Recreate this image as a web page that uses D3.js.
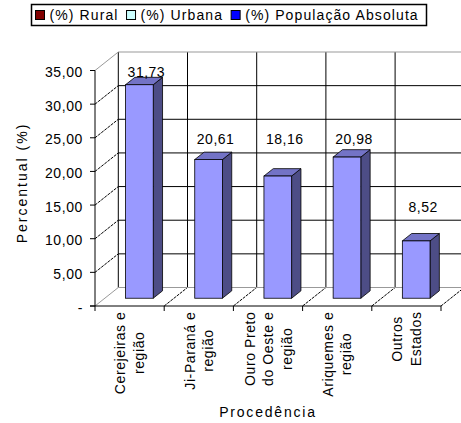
<!DOCTYPE html>
<html>
<head>
<meta charset="utf-8">
<script src="https://cdn.jsdelivr.net/npm/d3@7"></script>
<style>
  body { margin: 0; background: #fff; }
  svg { display: block; font-family: Arial, "Liberation Sans", sans-serif; }
</style>
</head>
<body>
<div id="chart"></div>
<script>
// chart data
var categories = [
  ["Cerejeiras e", "região"],
  ["Ji-Paraná e", "região"],
  ["Ouro Preto", "do Oeste e", "região"],
  ["Ariquemes e", "região"],
  ["Outros", "Estados"]
];
var popAbsoluta = [31.73, 20.61, 18.16, 20.98, 8.52];
var valueLabels = ["31,73", "20,61", "18,16", "20,98", "8,52"];
// gridline level where each value label sits (as placed in the original)
var labelLevels = [35, 25, 25, 25, 15];
var yTicks = [0, 5, 10, 15, 20, 25, 30, 35];
var legendNames = ["(%) Rural", "(%) Urbana", "(%) População Absoluta"];
var legendColors = ["#800000", "#ccffff", "#0000ff"];

var width = 461, height = 423;
//depth of the 3d box
var depthX = 23.3, depthY = -18.5;
//bars sit between these depth fractions
var barD0 = 0.42, barD1 = 0.82;

var svg = d3.select("#chart").append("svg")
    .attr("width", width)
    .attr("height", height);

var x = d3.scaleBand()
    .domain(d3.range(categories.length))
    .range([95, 95 + 5 * 69.2])
    .paddingInner(0.6)
    .paddingOuter(0.3);

var y = d3.scaleLinear()
    .domain([0, 35])
    .range([306, 70.5]);

var x0 = x.range()[0], x1 = x.range()[1];
var step = x.step();

function fmt(v) {
  return v == 0 ? "-" : d3.format(".2f")(v).replace(".", ",");
}

//walls
var walls = svg.append("g");
//back wall gridlines
walls.selectAll("line.hgrid")
    .data(yTicks.slice(1, -1))
    .enter().append("line")
    .attr("x1", x0 + depthX).attr("x2", x1 + depthX)
    .attr("y1", function(d) { return y(d) + depthY; })
    .attr("y2", function(d) { return y(d) + depthY; })
    .attr("stroke", "#000");
//side wall gridlines
walls.selectAll("line.sgrid")
    .data(yTicks.slice(1, -1))
    .enter().append("line")
    .attr("x1", x0).attr("x2", x0 + depthX)
    .attr("y1", function(d) { return y(d); })
    .attr("y2", function(d) { return y(d) + depthY; })
    .attr("stroke", "#000")
    .attr("stroke-dasharray", "3,1");
//vertical gridlines on back wall
walls.selectAll("line.vgrid")
    .data(d3.range(categories.length + 1))
    .enter().append("line")
    .attr("x1", function(i) { return x0 + i * step + depthX; })
    .attr("x2", function(i) { return x0 + i * step + depthX; })
    .attr("y1", y(35) + depthY)
    .attr("y2", y(0) + depthY)
    .attr("stroke", "#000");
//floor diagonals
walls.selectAll("line.fgrid")
    .data(d3.range(1, categories.length + 1))
    .enter().append("line")
    .attr("x1", function(i) { return x0 + i * step; })
    .attr("x2", function(i) { return x0 + i * step + depthX; })
    .attr("y1", y(0))
    .attr("y2", y(0) + depthY)
    .attr("stroke", "#000")
    .attr("stroke-dasharray", "3,1");
//gray edges
walls.append("path")
    .attr("d", "M" + x0 + "," + y(0) + "L" + (x0 + depthX) + "," + (y(0) + depthY) +
               "L" + (x1 + depthX) + "," + (y(0) + depthY))
    .attr("fill", "none").attr("stroke", "#999");
walls.append("path")
    .attr("d", "M" + x0 + "," + y(35) + "L" + (x0 + depthX) + "," + (y(35) + depthY) +
               "L" + (x1 + depthX) + "," + (y(35) + depthY))
    .attr("fill", "none").attr("stroke", "#999");

//bars
var bars = svg.append("g").selectAll("g")
    .data(popAbsoluta)
    .enter().append("g");

function bx(i) { return x(i) + barD0 * depthX; }
function by(v) { return y(v) + barD0 * depthY; }
var bdx = (barD1 - barD0) * depthX, bdy = (barD1 - barD0) * depthY;
var bw = x.bandwidth();

//side face
bars.append("path")
    .attr("d", function(d, i) {
      var l = bx(i) + bw, t = by(d), b = by(0);
      return "M" + l + "," + t + "L" + (l + bdx) + "," + (t + bdy) +
             "L" + (l + bdx) + "," + (b + bdy) + "L" + l + "," + b + "Z";
    })
    .attr("fill", "#4d4d86").attr("stroke", "#000").attr("stroke-width", 0.8);
//top face
bars.append("path")
    .attr("d", function(d, i) {
      var l = bx(i), t = by(d);
      return "M" + l + "," + t + "L" + (l + bdx) + "," + (t + bdy) +
             "L" + (l + bw + bdx) + "," + (t + bdy) + "L" + (l + bw) + "," + t + "Z";
    })
    .attr("fill", "#7373c6").attr("stroke", "#000").attr("stroke-width", 0.8);
//front face
bars.append("rect")
    .attr("x", function(d, i) { return bx(i); })
    .attr("y", function(d) { return by(d); })
    .attr("width", bw)
    .attr("height", function(d) { return by(0) - by(d); })
    .attr("fill", "#9999ff").attr("stroke", "#000").attr("stroke-width", 0.8);

//value labels
svg.append("g").selectAll("text")
    .data(popAbsoluta)
    .enter().append("text")
    .attr("x", function(d, i) { return bx(i) + bw / 2 + 7; })
    .attr("y", function(d, i) { return y(labelLevels[i]) + 6.5; })
    .attr("text-anchor", "middle")
    .attr("font-size", 14)
    .attr("letter-spacing", 0.5)
    .text(function(d, i) { return valueLabels[i]; });

//front axes
svg.append("line")
    .attr("x1", x0).attr("x2", x0)
    .attr("y1", y(35)).attr("y2", y(0))
    .attr("stroke", "#000");
svg.append("line")
    .attr("x1", x0 - 5).attr("x2", x1)
    .attr("y1", y(0)).attr("y2", y(0))
    .attr("stroke", "#000");
svg.selectAll("line.ytick")
    .data(yTicks)
    .enter().append("line")
    .attr("x1", x0 - 5).attr("x2", x0)
    .attr("y1", function(d) { return y(d); })
    .attr("y2", function(d) { return y(d); })
    .attr("stroke", "#000");
svg.selectAll("line.xtick")
    .data(d3.range(categories.length + 1))
    .enter().append("line")
    .attr("x1", function(i) { return x0 + i * step; })
    .attr("x2", function(i) { return x0 + i * step; })
    .attr("y1", y(0)).attr("y2", y(0) + 5)
    .attr("stroke", "#000");

//y tick labels
svg.append("g").selectAll("text")
    .data(yTicks)
    .enter().append("text")
    .attr("x", 83)
    .attr("y", function(d) { return y(d) + 6.5; })
    .attr("text-anchor", "end")
    .attr("font-size", 14)
    .attr("letter-spacing", 0.6)
    .text(fmt);

//category labels (rotated, lines centred in a top-aligned block)
var catG = svg.append("g").selectAll("g")
    .data(categories)
    .enter().append("g");
catG.each(function(lines, i) {
  var g = d3.select(this);
  var cx = x0 + (i + 0.5) * step;
  var texts = g.selectAll("text")
      .data(lines)
      .enter().append("text")
      .attr("font-size", 14)
      .attr("letter-spacing", 0.6)
      .attr("text-anchor", "middle")
      .text(function(d) { return d; });
  var maxLen = d3.max(texts.nodes(), function(n) { return n.getComputedTextLength(); });
  var cy = 311.5 + maxLen / 2;
  texts.attr("transform", function(d, j) {
    var lx = cx + (j - (lines.length - 1) / 2) * 18.5 + 5;
    return "translate(" + lx + "," + cy + ") rotate(-90)";
  });
});

//axis titles
svg.append("text")
    .attr("transform", "translate(27,183) rotate(-90)")
    .attr("text-anchor", "middle")
    .attr("font-size", 14)
    .attr("letter-spacing", 2)
    .text("Percentual (%)");
svg.append("text")
    .attr("x", 268).attr("y", 417)
    .attr("text-anchor", "middle")
    .attr("font-size", 14)
    .attr("letter-spacing", 1.8)
    .text("Procedência");

//legend
var legend = svg.append("g");
legend.append("rect")
    .attr("x", 31.5).attr("y", 4.5)
    .attr("width", 395).attr("height", 21)
    .attr("fill", "#fff").attr("stroke", "#000").attr("stroke-width", 1.5);
var lx = 35.5;
legendNames.forEach(function(name, i) {
  legend.append("rect")
      .attr("x", lx).attr("y", 10.5)
      .attr("width", 9).attr("height", 9)
      .attr("fill", legendColors[i]).attr("stroke", "#000");
  var t = legend.append("text")
      .attr("x", lx + 14).attr("y", 20)
      .attr("font-size", 14)
      .attr("letter-spacing", 1.1)
      .text(name);
  lx += 14 + t.node().getComputedTextLength() + 8;
});
</script>
</body>
</html>
